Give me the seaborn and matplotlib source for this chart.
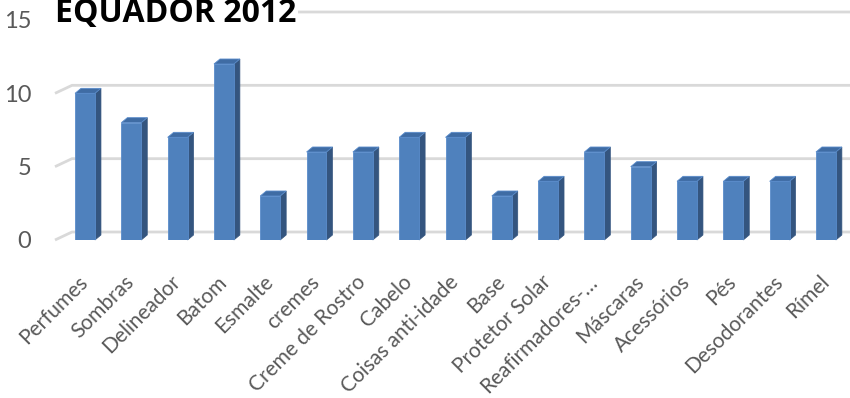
import matplotlib
matplotlib.use("Agg")
import matplotlib.pyplot as plt
import seaborn as sns
import pandas as pd
import numpy as np
from matplotlib.patches import Polygon

categories = ["Perfumes", "Sombras", "Delineador", "Batom", "Esmalte", "cremes",
              "Creme de Rostro", "Cabelo", "Coisas anti-idade", "Base",
              "Protetor Solar", "Reafirmadores-…", "Máscaras", "Acessórios",
              "Pés", "Desodorantes", "Rímel"]
values = [10, 8, 7, 12, 3, 6, 6, 7, 7, 3, 4, 6, 5, 4, 4, 4, 6]
y_ticks = [0, 5, 10, 15]
title = "EQUADOR 2012"

df = pd.DataFrame({"categoria": categories, "valor": values})

sns.set_theme(style="white")
plt.rcParams["font.family"] = ["Lato", "DejaVu Sans"]

W, H, DPI = 850, 398, 100
fig = plt.figure(figsize=(W / DPI, H / DPI), dpi=DPI)

# axes box in pixel units (front plane)
ax_left, ax_right = 55, 850
ax_bottom_px, ax_top_px = 240, 20
ax = fig.add_axes([ax_left / W, (H - ax_bottom_px) / H,
                   (ax_right - ax_left) / W, (ax_bottom_px - ax_top_px) / H])

front = "#4f81bd"
side = "#34557f"
top = "#3f6ca4"

sns.barplot(data=df, x="categoria", y="valor", color=front, width=0.43,
            saturation=1, ax=ax, zorder=3, edgecolor="#5a8ccb", linewidth=0.6)

ax.set_ylim(0, 15)
ax.set_xlim(-0.648, 16.52)
ax.set_yticks(y_ticks)
ax.set_xlabel("")
ax.set_ylabel("")
for s in ax.spines.values():
    s.set_visible(False)

fig.canvas.draw()
to_disp = ax.transData.transform
to_data = ax.transData.inverted().transform

# back-wall gridlines with a short diagonal floor/wall edge on the left
bdx, bdy = 17, 8  # back-plane offset in pixels (right, up)
grid_col = "#d9d9d9"
x0_disp = to_disp((ax.get_xlim()[0], 0))[0]
x1_disp = to_disp((ax.get_xlim()[1], 0))[0]
for t in y_ticks:
    yd = to_disp((0, t))[1]
    pts = to_data([(x0_disp, yd), (x0_disp + bdx, yd + bdy), (x1_disp, yd + bdy)])
    ax.plot(pts[:, 0], pts[:, 1], color=grid_col, lw=2.0, zorder=1,
            solid_capstyle="butt", clip_on=False)

# depth faces of each bar
dx, dy = 6, 5
for p in ax.patches:
    x, y0 = p.get_x(), p.get_y()
    w, h = p.get_width(), p.get_height()
    (xl, yb), (xr, yt) = to_disp([(x, y0), (x + w, y0 + h)])
    side_pts = to_data([(xr, yb), (xr + dx, yb + dy), (xr + dx, yt + dy), (xr, yt)])
    top_pts = to_data([(xl, yt), (xr, yt), (xr + dx, yt + dy), (xl + dx, yt + dy)])
    ax.add_patch(Polygon(side_pts, closed=True, facecolor=side, edgecolor=side,
                         lw=0.5, zorder=2.9, clip_on=False))
    ax.add_patch(Polygon(top_pts, closed=True, facecolor=top, edgecolor="#5a8ccb",
                         lw=0.6, zorder=3.1, clip_on=False))

label_col = "#595959"
ax.tick_params(axis="y", length=0, pad=17, labelsize=17, labelcolor=label_col)
ax.tick_params(axis="x", length=0, pad=28, labelsize=15, labelcolor=label_col)
ax.set_xticks(range(len(categories)))
ax.set_xticklabels(categories, rotation=45, ha="right", va="center",
                   rotation_mode="anchor")

fig.text(55 / W, 1 + 3 / H, title, ha="left", va="top", fontsize=23,
         fontweight="bold", color="black", family=["Open Sans", "DejaVu Sans"],
         bbox=dict(facecolor="white", edgecolor="none", pad=1), zorder=10)

fig.savefig("out.png", dpi=DPI)
